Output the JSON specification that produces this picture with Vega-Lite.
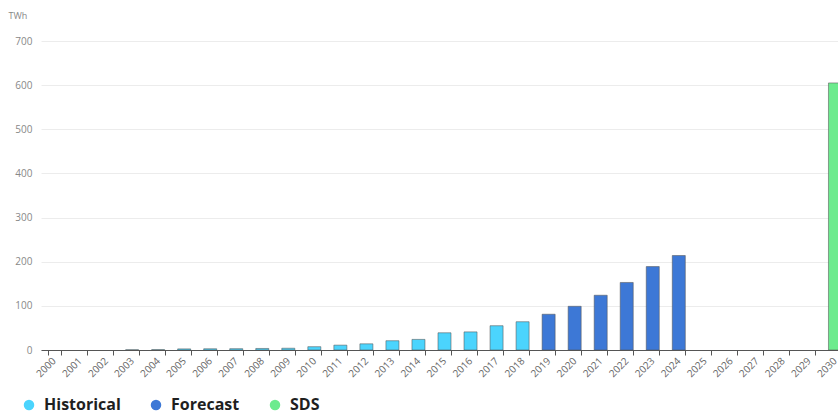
{
  "$schema": "https://vega.github.io/schema/vega-lite/v6.json",
  "autosize": "none",
  "width": 797,
  "height": 309,
  "padding": {"left": 41, "top": 41, "right": 0, "bottom": 64},
  "background": "white",
  "config": {
    "font": "Open Sans",
    "view": {"stroke": null}
  },
  "data": {
    "values": [
      {"year": "2003", "twh": 0.5, "type": "Historical"},
      {"year": "2004", "twh": 0.8, "type": "Historical"},
      {"year": "2005", "twh": 2.5, "type": "Historical"},
      {"year": "2006", "twh": 2.8, "type": "Historical"},
      {"year": "2007", "twh": 3, "type": "Historical"},
      {"year": "2008", "twh": 3.5, "type": "Historical"},
      {"year": "2009", "twh": 4, "type": "Historical"},
      {"year": "2010", "twh": 7.5, "type": "Historical"},
      {"year": "2011", "twh": 11, "type": "Historical"},
      {"year": "2012", "twh": 14, "type": "Historical"},
      {"year": "2013", "twh": 21, "type": "Historical"},
      {"year": "2014", "twh": 24, "type": "Historical"},
      {"year": "2015", "twh": 39, "type": "Historical"},
      {"year": "2016", "twh": 41, "type": "Historical"},
      {"year": "2017", "twh": 55, "type": "Historical"},
      {"year": "2018", "twh": 64, "type": "Historical"},
      {"year": "2019", "twh": 81, "type": "Forecast"},
      {"year": "2020", "twh": 99, "type": "Forecast"},
      {"year": "2021", "twh": 124, "type": "Forecast"},
      {"year": "2022", "twh": 153, "type": "Forecast"},
      {"year": "2023", "twh": 189, "type": "Forecast"},
      {"year": "2024", "twh": 214, "type": "Forecast"},
      {"year": "2030", "twh": 605, "type": "SDS"}
    ]
  },
  "mark": {"type": "bar", "stroke": "#555", "strokeWidth": 1, "strokeOpacity": 0.55},
  "encoding": {
    "x": {
      "field": "year",
      "type": "ordinal",
      "title": null,
      "scale": {
        "domain": ["2000", "2001", "2002", "2003", "2004", "2005", "2006", "2007", "2008", "2009", "2010", "2011", "2012", "2013", "2014", "2015", "2016", "2017", "2018", "2019", "2020", "2021", "2022", "2023", "2024", "2025", "2026", "2027", "2028", "2029", "2030"],
        "range": [0, 807],
        "paddingInner": 0.5,
        "paddingOuter": 0.25
      },
      "axis": {
        "labelAngle": -45,
        "labelAlign": "right",
        "labelBaseline": "middle",
        "labelFontSize": 10,
        "labelColor": "#666",
        "labelPadding": 4,
        "tickBand": "extent",
        "tickColor": "#555",
        "tickSize": 5,
        "domainColor": "#555",
        "domainWidth": 1.2,
        "grid": false
      }
    },
    "y": {
      "field": "twh",
      "type": "quantitative",
      "scale": {"domain": [0, 700]},
      "axis": {
        "title": "TWh",
        "titleAngle": 0,
        "titleAlign": "left",
        "titleBaseline": "middle",
        "titleX": -33,
        "titleY": -26,
        "titleFontSize": 9,
        "titleFontWeight": "normal",
        "titleColor": "#888",
        "values": [0, 100, 200, 300, 400, 500, 600, 700],
        "labelFontSize": 10,
        "labelColor": "#888",
        "labelPadding": 9,
        "ticks": false,
        "domain": false,
        "gridColor": "#ececec"
      }
    },
    "color": {
      "field": "type",
      "type": "nominal",
      "title": null,
      "scale": {
        "domain": ["Historical", "Forecast", "SDS"],
        "range": ["#4bd4fd", "#3d78d6", "#6ceb8e"]
      },
      "legend": {
        "orient": "none",
        "direction": "horizontal",
        "legendX": -20,
        "legendY": 356,
        "symbolType": "circle",
        "symbolSize": 110,
        "symbolStrokeWidth": 0,
        "labelFontSize": 16,
        "labelFontWeight": "bold",
        "labelColor": "#1f1f1f",
        "labelOffset": 7,
        "columnPadding": 27
      }
    }
  }
}
